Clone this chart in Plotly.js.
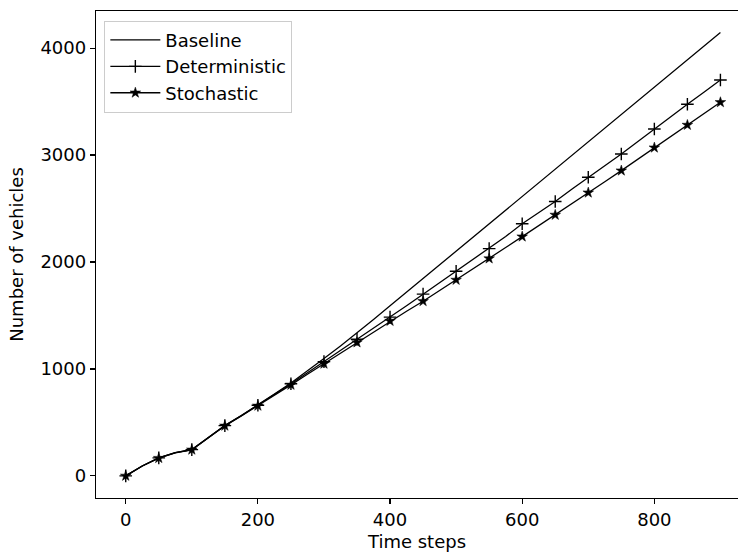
<!DOCTYPE html>
<html>
<head>
<meta charset="utf-8">
<script src="https://cdn.plot.ly/plotly-3.0.1.min.js"></script>
<style>html,body{margin:0;padding:0;background:#fff;}#chart{width:738px;height:553px;}</style>
</head>
<body>
<div id="chart"></div>
<script>
// Time steps (line resolution) and marker time steps
var steps = [0,25,50,75,100,125,150,175,200,225,250,275,300,325,350,375,400,425,450,475,500,525,550,575,600,625,650,675,700,725,750,775,800,825,850,875,900];

var baseline = [0,92,168,217,246,358,471,565,663,765,868,980,1097,1215,1337,1462,1590,1718,1845,1972,2100,2228,2355,2483,2610,2738,2865,2993,3120,3247,3375,3502,3630,3760,3890,4018,4145];

var deterministic = [0,92,168,217,245,357,470,563,660,760,862,965,1068,1172,1277,1380,1484,1590,1699,1806,1914,2018,2125,2238,2358,2458,2565,2680,2793,2900,3010,3128,3244,3360,3475,3588,3702];

var stochastic = [0,92,166,215,244,355,468,560,655,752,851,950,1048,1148,1247,1345,1448,1540,1633,1732,1832,1932,2032,2135,2237,2338,2440,2545,2648,2750,2854,2960,3069,3175,3281,3387,3493];

var seriesNames = ['Baseline','Deterministic','Stochastic'];
var xTicks = [0,200,400,600,800];
var yTicks = [0,1000,2000,3000,4000];

function every50(arr){
  var out = [];
  for (var i = 0; i < arr.length; i++) if (steps[i] % 50 === 0) out.push(arr[i]);
  return out;
}

var LW = 1.3;
var traces = [];
[baseline, deterministic, stochastic].forEach(function(s){
  traces.push({x: steps, y: s, mode: 'lines', line: {color: 'black', width: LW}, showlegend: false, hoverinfo: 'skip'});
});
var plusMarker = {symbol: 'cross-thin', size: 9, color: 'black', line: {color: 'black', width: 1.4}};
var starMarker = {symbol: 'star', size: 8, color: 'black', line: {color: 'black', width: 0.5}};
traces.push({x: every50(steps), y: every50(deterministic), mode: 'markers', marker: plusMarker, showlegend: false});
traces.push({x: every50(steps), y: every50(stochastic), mode: 'markers', marker: starMarker, showlegend: false});
traces.push({x: [null], y: [null], mode: 'lines', name: seriesNames[0], line: {color: 'black', width: LW}});
traces.push({x: [null], y: [null], mode: 'lines+markers', name: seriesNames[1], line: {color: 'black', width: LW}, marker: plusMarker});
traces.push({x: [null], y: [null], mode: 'lines+markers', name: seriesNames[2], line: {color: 'black', width: LW}, marker: starMarker});

var font = {family: 'DejaVu Sans', size: 18, color: 'black'};
var layout = {
  width: 738, height: 553,
  margin: {l: 96, r: 0, t: 11, b: 55, pad: 0},
  paper_bgcolor: 'white', plot_bgcolor: 'white',
  font: font,
  xaxis: {
    range: [-45, 926.6], tickvals: xTicks, ticktext: xTicks.map(String),
    showline: true, mirror: true, linecolor: 'black', linewidth: 1.2,
    ticks: 'outside', ticklen: 5, tickwidth: 1.2, tickcolor: 'black',
    showgrid: false, zeroline: false, tickfont: font,
    title: {text: 'Time steps', font: font, standoff: 6}
  },
  yaxis: {
    range: [-207, 4347], tickvals: yTicks, ticktext: yTicks.map(String),
    showline: true, mirror: false, linecolor: 'black', linewidth: 1.2,
    ticks: 'outside', ticklen: 5, tickwidth: 1.2, tickcolor: 'black',
    showgrid: false, zeroline: false, tickfont: font,
    title: {text: 'Number of vehicles', font: font, standoff: 12}
  },
  legend: {
    x: 0.013, y: 0.98, xanchor: 'left', yanchor: 'top',
    bordercolor: '#cccccc', borderwidth: 1, bgcolor: 'rgba(255,255,255,0.8)',
    font: font, itemwidth: 50
  },
  showlegend: true
};

Plotly.newPlot('chart', traces, layout, {displayModeBar: false, staticPlot: true});
</script>
</body>
</html>
